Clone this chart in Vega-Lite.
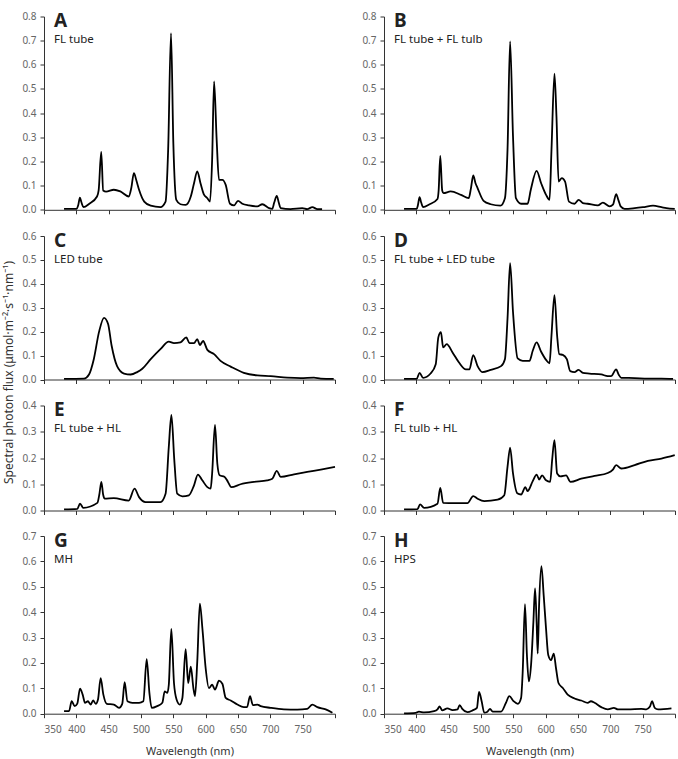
{
  "$schema": "https://vega.github.io/schema/vega-lite/v6.json",
  "autosize": {"type": "pad"},
  "padding": {"left": 2, "top": 11.5, "right": 4, "bottom": 2},
  "background": "white",
  "config": {
    "font": "Noto Sans",
    "view": {"stroke": null},
    "line": {"color": "#000", "strokeWidth": 1.8, "interpolate": "monotone"},
    "axis": {"grid": false, "domainColor": "#333", "tickColor": "#333", "tickSize": 4, "labelColor": "#666", "labelFontSize": 10, "labelFont": "Noto Sans", "titleFont": "Noto Sans", "titleFontWeight": "normal", "titleColor": "#333", "titleFontSize": 11},
    "axisY": {"labelPadding": 4},
    "axisX": {"labelPadding": 7, "titlePadding": 11},
    "title": {"anchor": "start", "frame": "group", "fontSize": 19, "fontWeight": "bold", "color": "#222", "subtitleFontSize": 11.5, "subtitleColor": "#222", "subtitlePadding": 3, "dx": 10, "offset": -34}
  },
  "datasets": {
    "A": [{"w":381,"f":0.004},{"w":400,"f":0.004},{"w":403,"f":0.02},{"w":405.5,"f":0.05},{"w":408,"f":0.03},{"w":411,"f":0.011},{"w":420,"f":0.025},{"w":432,"f":0.055},{"w":434.5,"f":0.08},{"w":438.5,"f":0.24},{"w":441.5,"f":0.08},{"w":446,"f":0.075},{"w":458,"f":0.083},{"w":468,"f":0.076},{"w":481,"f":0.055},{"w":485,"f":0.09},{"w":489,"f":0.152},{"w":493,"f":0.12},{"w":497,"f":0.083},{"w":505,"f":0.034},{"w":515,"f":0.017},{"w":530,"f":0.011},{"w":538,"f":0.034},{"w":542,"f":0.25},{"w":546.4,"f":0.731},{"w":550,"f":0.276},{"w":554.6,"f":0.041},{"w":561,"f":0.023},{"w":569,"f":0.02},{"w":577,"f":0.055},{"w":582,"f":0.11},{"w":587,"f":0.159},{"w":592,"f":0.11},{"w":597,"f":0.065},{"w":602.6,"f":0.048},{"w":606.7,"f":0.034},{"w":610,"f":0.207},{"w":613,"f":0.531},{"w":617,"f":0.29},{"w":620.6,"f":0.124},{"w":625.8,"f":0.124},{"w":631,"f":0.103},{"w":637.6,"f":0.025},{"w":643.8,"f":0.018},{"w":650,"f":0.037},{"w":656.7,"f":0.025},{"w":667,"f":0.018},{"w":680,"f":0.014},{"w":687.6,"f":0.023},{"w":698,"f":0.007},{"w":703,"f":0.004},{"w":706,"f":0.03},{"w":710,"f":0.058},{"w":713,"f":0.03},{"w":716,"f":0.007},{"w":731,"f":0.003},{"w":749.5,"f":0.007},{"w":757,"f":0.003},{"w":765,"f":0.011},{"w":772.7,"f":0.003},{"w":780,"f":0.003}],
    "B": [{"w":381,"f":0.004},{"w":400.6,"f":0.004},{"w":402.5,"f":0.02},{"w":405,"f":0.052},{"w":407.5,"f":0.03},{"w":410.5,"f":0.011},{"w":420,"f":0.022},{"w":432.7,"f":0.045},{"w":434.5,"f":0.08},{"w":437,"f":0.223},{"w":440,"f":0.08},{"w":442,"f":0.069},{"w":453,"f":0.076},{"w":469,"f":0.062},{"w":481,"f":0.048},{"w":484.5,"f":0.09},{"w":488,"f":0.142},{"w":491.5,"f":0.11},{"w":494.7,"f":0.09},{"w":504,"f":0.037},{"w":515,"f":0.023},{"w":530,"f":0.017},{"w":537,"f":0.048},{"w":541,"f":0.248},{"w":545,"f":0.697},{"w":549.5,"f":0.303},{"w":554,"f":0.048},{"w":562,"f":0.025},{"w":572,"f":0.025},{"w":577,"f":0.083},{"w":586,"f":0.161},{"w":593,"f":0.11},{"w":600.6,"f":0.062},{"w":606,"f":0.041},{"w":609,"f":0.248},{"w":613.6,"f":0.563},{"w":616.7,"f":0.386},{"w":620,"f":0.117},{"w":625,"f":0.131},{"w":630,"f":0.117},{"w":636,"f":0.034},{"w":644.6,"f":0.025},{"w":651,"f":0.041},{"w":657.5,"f":0.028},{"w":665,"f":0.025},{"w":680.7,"f":0.018},{"w":688.5,"f":0.03},{"w":699,"f":0.014},{"w":704,"f":0.021},{"w":709,"f":0.065},{"w":712.5,"f":0.04},{"w":716,"f":0.014},{"w":722,"f":0.004},{"w":737.6,"f":0.007},{"w":750.5,"f":0.011},{"w":766,"f":0.017},{"w":779,"f":0.011},{"w":786.7,"f":0.007},{"w":799.6,"f":0.004}],
    "C": [{"w":381,"f":0.003},{"w":412,"f":0.004},{"w":419.6,"f":0.021},{"w":427,"f":0.085},{"w":435,"f":0.198},{"w":442.8,"f":0.258},{"w":449,"f":0.233},{"w":454.6,"f":0.141},{"w":463,"f":0.056},{"w":473.7,"f":0.025},{"w":484,"f":0.021},{"w":494,"f":0.031},{"w":502,"f":0.045},{"w":515,"f":0.085},{"w":530,"f":0.127},{"w":543,"f":0.158},{"w":551,"f":0.152},{"w":561,"f":0.155},{"w":570,"f":0.176},{"w":575,"f":0.152},{"w":582,"f":0.152},{"w":587,"f":0.169},{"w":591,"f":0.144},{"w":596,"f":0.161},{"w":602.6,"f":0.124},{"w":613,"f":0.106},{"w":623,"f":0.078},{"w":638.7,"f":0.054},{"w":659,"f":0.028},{"w":680,"f":0.017},{"w":700.5,"f":0.014},{"w":726,"f":0.008},{"w":747,"f":0.006},{"w":767.5,"f":0.008},{"w":778,"f":0.004},{"w":798,"f":0.003}],
    "D": [{"w":381,"f":0.003},{"w":400.6,"f":0.003},{"w":405,"f":0.028},{"w":410.5,"f":0.007},{"w":422,"f":0.025},{"w":430,"f":0.064},{"w":434,"f":0.176},{"w":438,"f":0.198},{"w":441.5,"f":0.134},{"w":447,"f":0.148},{"w":456,"f":0.113},{"w":466,"f":0.071},{"w":476.6,"f":0.042},{"w":482,"f":0.042},{"w":488,"f":0.102},{"w":494.7,"f":0.056},{"w":502,"f":0.031},{"w":515,"f":0.04},{"w":531,"f":0.056},{"w":537,"f":0.085},{"w":541,"f":0.254},{"w":545,"f":0.487},{"w":549.5,"f":0.282},{"w":556.7,"f":0.088},{"w":564.5,"f":0.078},{"w":575,"f":0.078},{"w":580,"f":0.12},{"w":586,"f":0.155},{"w":593,"f":0.116},{"w":600.6,"f":0.082},{"w":606,"f":0.068},{"w":609,"f":0.184},{"w":613.6,"f":0.353},{"w":617.7,"f":0.184},{"w":621,"f":0.106},{"w":626.5,"f":0.103},{"w":632.7,"f":0.085},{"w":638,"f":0.035},{"w":644.6,"f":0.031},{"w":650.8,"f":0.04},{"w":657.5,"f":0.028},{"w":667.8,"f":0.025},{"w":686,"f":0.021},{"w":696,"f":0.014},{"w":701,"f":0.014},{"w":709,"f":0.042},{"w":713,"f":0.02},{"w":717,"f":0.007},{"w":737.6,"f":0.006},{"w":758,"f":0.004},{"w":779,"f":0.004},{"w":797,"f":0.003}],
    "E": [{"w":381,"f":0.004},{"w":401.5,"f":0.006},{"w":405.7,"f":0.026},{"w":410.8,"f":0.01},{"w":432.5,"f":0.029},{"w":435.5,"f":0.06},{"w":438.7,"f":0.109},{"w":441.5,"f":0.06},{"w":443.8,"f":0.045},{"w":458,"f":0.047},{"w":481,"f":0.038},{"w":490,"f":0.083},{"w":497,"f":0.051},{"w":507,"f":0.032},{"w":530,"f":0.032},{"w":538,"f":0.064},{"w":543,"f":0.243},{"w":547,"f":0.364},{"w":551.5,"f":0.192},{"w":556,"f":0.064},{"w":564,"f":0.054},{"w":574,"f":0.058},{"w":582,"f":0.096},{"w":588,"f":0.137},{"w":594.8,"f":0.115},{"w":602.6,"f":0.089},{"w":607.7,"f":0.083},{"w":610,"f":0.141},{"w":614.4,"f":0.326},{"w":618,"f":0.179},{"w":621.6,"f":0.134},{"w":629.4,"f":0.128},{"w":634.5,"f":0.109},{"w":639.7,"f":0.089},{"w":654,"f":0.1},{"w":674.7,"f":0.109},{"w":695,"f":0.115},{"w":703,"f":0.121},{"w":710,"f":0.151},{"w":716,"f":0.128},{"w":736.6,"f":0.138},{"w":757,"f":0.147},{"w":778,"f":0.156},{"w":800,"f":0.166}],
    "F": [{"w":381,"f":0.004},{"w":401.6,"f":0.005},{"w":405.8,"f":0.023},{"w":412,"f":0.01},{"w":432.7,"f":0.026},{"w":437,"f":0.086},{"w":441.5,"f":0.029},{"w":458.5,"f":0.028},{"w":479,"f":0.028},{"w":488,"f":0.055},{"w":494.7,"f":0.045},{"w":505,"f":0.036},{"w":525.7,"f":0.041},{"w":536,"f":0.058},{"w":541,"f":0.166},{"w":545,"f":0.239},{"w":549.5,"f":0.141},{"w":556,"f":0.066},{"w":562,"f":0.061},{"w":568.6,"f":0.089},{"w":572,"f":0.074},{"w":580,"f":0.112},{"w":586,"f":0.137},{"w":590,"f":0.118},{"w":594.4,"f":0.134},{"w":600.6,"f":0.115},{"w":607,"f":0.109},{"w":610,"f":0.192},{"w":613.6,"f":0.268},{"w":617.7,"f":0.141},{"w":622.9,"f":0.13},{"w":631.6,"f":0.134},{"w":638.4,"f":0.109},{"w":655,"f":0.121},{"w":675.6,"f":0.132},{"w":696,"f":0.143},{"w":704,"f":0.156},{"w":709,"f":0.173},{"w":717,"f":0.16},{"w":737.6,"f":0.173},{"w":758,"f":0.189},{"w":779,"f":0.198},{"w":799.6,"f":0.211}],
    "G": [{"w":381,"f":0.01},{"w":388.7,"f":0.01},{"w":392.8,"f":0.049},{"w":397.4,"f":0.03},{"w":401.5,"f":0.04},{"w":405.7,"f":0.099},{"w":409.8,"f":0.075},{"w":413.4,"f":0.043},{"w":418,"f":0.049},{"w":422,"f":0.036},{"w":426,"f":0.052},{"w":430,"f":0.039},{"w":433.5,"f":0.056},{"w":437.6,"f":0.14},{"w":441.8,"f":0.075},{"w":447,"f":0.039},{"w":458,"f":0.036},{"w":466,"f":0.023},{"w":471,"f":0.039},{"w":474.7,"f":0.124},{"w":479,"f":0.049},{"w":486.6,"f":0.043},{"w":497,"f":0.043},{"w":503.6,"f":0.049},{"w":508.8,"f":0.215},{"w":513,"f":0.082},{"w":516.5,"f":0.023},{"w":525,"f":0.03},{"w":533,"f":0.043},{"w":536.6,"f":0.088},{"w":540.7,"f":0.082},{"w":543,"f":0.114},{"w":546.9,"f":0.334},{"w":551,"f":0.121},{"w":555,"f":0.056},{"w":560,"f":0.036},{"w":564,"f":0.062},{"w":569,"f":0.254},{"w":573,"f":0.121},{"w":577,"f":0.185},{"w":581,"f":0.101},{"w":583.5,"f":0.069},{"w":587,"f":0.205},{"w":591,"f":0.434},{"w":595,"f":0.334},{"w":600,"f":0.179},{"w":605,"f":0.101},{"w":610,"f":0.114},{"w":614.4,"f":0.095},{"w":620.6,"f":0.13},{"w":625.8,"f":0.118},{"w":631,"f":0.062},{"w":638.7,"f":0.052},{"w":649,"f":0.036},{"w":659,"f":0.026},{"w":664,"f":0.026},{"w":668.6,"f":0.069},{"w":673,"f":0.034},{"w":680,"f":0.036},{"w":685,"f":0.03},{"w":700.5,"f":0.023},{"w":721,"f":0.017},{"w":741.8,"f":0.016},{"w":757,"f":0.019},{"w":765,"f":0.036},{"w":772.7,"f":0.026},{"w":785.6,"f":0.017},{"w":796,"f":0.004}],
    "H": [{"w":381,"f":0.001},{"w":399,"f":0.003},{"w":404,"f":0.008},{"w":412,"f":0.005},{"w":427.5,"f":0.01},{"w":432.7,"f":0.017},{"w":436,"f":0.029},{"w":440,"f":0.013},{"w":448,"f":0.021},{"w":456,"f":0.014},{"w":463.7,"f":0.017},{"w":467,"f":0.034},{"w":471,"f":0.019},{"w":479,"f":0.006},{"w":487,"f":0.013},{"w":493.7,"f":0.023},{"w":497,"f":0.086},{"w":501,"f":0.049},{"w":505,"f":0.004},{"w":510,"f":0.008},{"w":514,"f":0.019},{"w":518,"f":0.008},{"w":531,"f":0.008},{"w":538.6,"f":0.043},{"w":543.8,"f":0.069},{"w":550.5,"f":0.049},{"w":557,"f":0.039},{"w":562,"f":0.062},{"w":564.5,"f":0.166},{"w":568,"f":0.432},{"w":571,"f":0.231},{"w":574,"f":0.127},{"w":577.4,"f":0.192},{"w":581,"f":0.36},{"w":583.6,"f":0.494},{"w":586,"f":0.36},{"w":587.7,"f":0.237},{"w":589.8,"f":0.425},{"w":593.4,"f":0.581},{"w":597,"f":0.464},{"w":600.6,"f":0.334},{"w":604,"f":0.231},{"w":608.4,"f":0.211},{"w":612.5,"f":0.237},{"w":616,"f":0.179},{"w":619.8,"f":0.121},{"w":626.5,"f":0.101},{"w":634,"f":0.075},{"w":644.6,"f":0.06},{"w":655,"f":0.052},{"w":665,"f":0.043},{"w":670,"f":0.049},{"w":675.6,"f":0.043},{"w":686,"f":0.026},{"w":696,"f":0.017},{"w":705.5,"f":0.023},{"w":711.8,"f":0.017},{"w":727,"f":0.017},{"w":748,"f":0.019},{"w":755.7,"f":0.017},{"w":761,"f":0.027},{"w":764.5,"f":0.049},{"w":768.6,"f":0.023},{"w":773.8,"f":0.017},{"w":794.5,"f":0.021}]
  },
  "columns": 2,
  "spacing": {"row": 25.5, "column": 49},
  "bounds": "flush",
  "concat": [
    {"width": 291, "height": 193.3, "data": {"name": "A"}, "title": {"text": "A", "subtitle": "FL tube"}, "mark": {"type": "line"},
     "encoding": {"x": {"field": "w", "type": "quantitative", "scale": {"domain": [350, 800], "nice": false}, "axis": {"values": [350,400,450,500,550,600,650,700,750,800], "labels": false, "title": null}},
                  "y": {"field": "f", "type": "quantitative", "scale": {"domain": [0, 0.8], "nice": false}, "axis": {"values": [0,0.1,0.2,0.3,0.4,0.5,0.6,0.7,0.8], "format": ".1f", "title": null}}}},
    {"width": 291, "height": 193.3, "data": {"name": "B"}, "title": {"text": "B", "subtitle": "FL tube + FL tulb"}, "mark": {"type": "line"},
     "encoding": {"x": {"field": "w", "type": "quantitative", "scale": {"domain": [350, 800], "nice": false}, "axis": {"values": [350,400,450,500,550,600,650,700,750,800], "labels": false, "title": null}},
                  "y": {"field": "f", "type": "quantitative", "scale": {"domain": [0, 0.8], "nice": false}, "axis": {"values": [0,0.1,0.2,0.3,0.4,0.5,0.6,0.7,0.8], "format": ".1f", "title": null}}}},
    {"width": 291, "height": 143.5, "data": {"name": "C"}, "title": {"text": "C", "subtitle": "LED tube"}, "mark": {"type": "line"},
     "encoding": {"x": {"field": "w", "type": "quantitative", "scale": {"domain": [350, 800], "nice": false}, "axis": {"values": [350,400,450,500,550,600,650,700,750,800], "labels": false, "title": null}},
                  "y": {"field": "f", "type": "quantitative", "scale": {"domain": [0, 0.6], "nice": false}, "axis": {"values": [0,0.1,0.2,0.3,0.4,0.5,0.6], "format": ".1f", "title": "Spectral photon flux (μmol·m⁻²·s⁻¹·nm⁻¹)", "titleFontSize": 12, "titleX": -35.5, "titleY": 136, "titleBaseline": "middle", "titleAlign": "center", "titleAngle": -90}}}},
    {"width": 291, "height": 143.5, "data": {"name": "D"}, "title": {"text": "D", "subtitle": "FL tube + LED tube"}, "mark": {"type": "line"},
     "encoding": {"x": {"field": "w", "type": "quantitative", "scale": {"domain": [350, 800], "nice": false}, "axis": {"values": [350,400,450,500,550,600,650,700,750,800], "labels": false, "title": null}},
                  "y": {"field": "f", "type": "quantitative", "scale": {"domain": [0, 0.6], "nice": false}, "axis": {"values": [0,0.1,0.2,0.3,0.4,0.5,0.6], "format": ".1f", "title": null}}}},
    {"width": 291, "height": 105, "data": {"name": "E"}, "title": {"text": "E", "subtitle": "FL tube + HL"}, "mark": {"type": "line"},
     "encoding": {"x": {"field": "w", "type": "quantitative", "scale": {"domain": [350, 800], "nice": false}, "axis": {"values": [350,400,450,500,550,600,650,700,750,800], "labels": false, "title": null}},
                  "y": {"field": "f", "type": "quantitative", "scale": {"domain": [0, 0.4], "nice": false}, "axis": {"values": [0,0.1,0.2,0.3,0.4], "format": ".1f", "title": null}}}},
    {"width": 291, "height": 105, "data": {"name": "F"}, "title": {"text": "F", "subtitle": "FL tulb + HL"}, "mark": {"type": "line"},
     "encoding": {"x": {"field": "w", "type": "quantitative", "scale": {"domain": [350, 800], "nice": false}, "axis": {"values": [350,400,450,500,550,600,650,700,750,800], "labels": false, "title": null}},
                  "y": {"field": "f", "type": "quantitative", "scale": {"domain": [0, 0.4], "nice": false}, "axis": {"values": [0,0.1,0.2,0.3,0.4], "format": ".1f", "title": null}}}},
    {"width": 291, "height": 177.7, "data": {"name": "G"}, "title": {"text": "G", "subtitle": "MH"}, "mark": {"type": "line"},
     "encoding": {"x": {"field": "w", "type": "quantitative", "scale": {"domain": [350, 800], "nice": false}, "axis": {"values": [350,400,450,500,550,600,650,700,750,800], "labelExpr": "datum.value == 800 ? '' : datum.label", "title": "Wavelength (nm)"}},
                  "y": {"field": "f", "type": "quantitative", "scale": {"domain": [0, 0.7], "nice": false}, "axis": {"values": [0,0.1,0.2,0.3,0.4,0.5,0.6,0.7], "format": ".1f", "title": null}}}},
    {"width": 291, "height": 177.7, "data": {"name": "H"}, "title": {"text": "H", "subtitle": "HPS"}, "mark": {"type": "line"},
     "encoding": {"x": {"field": "w", "type": "quantitative", "scale": {"domain": [350, 800], "nice": false}, "axis": {"values": [350,400,450,500,550,600,650,700,750,800], "labelExpr": "datum.value == 800 ? '' : datum.label", "title": "Wavelength (nm)"}},
                  "y": {"field": "f", "type": "quantitative", "scale": {"domain": [0, 0.7], "nice": false}, "axis": {"values": [0,0.1,0.2,0.3,0.4,0.5,0.6,0.7], "format": ".1f", "title": null}}}}
  ]
}
